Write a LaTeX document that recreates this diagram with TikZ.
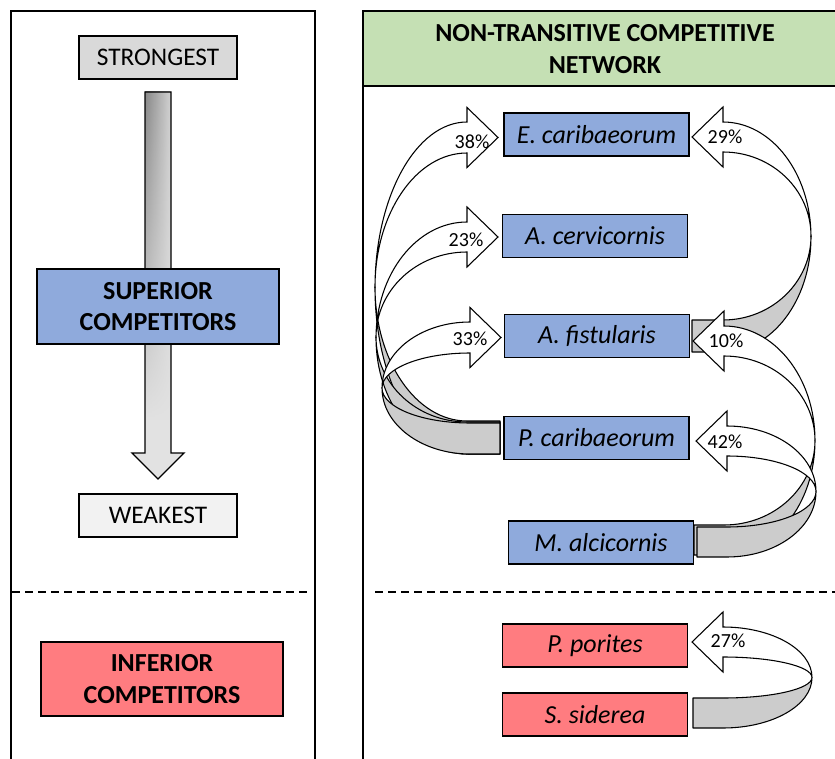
\documentclass[tikz,border=0pt]{standalone}
\usepackage{fontspec}
\setmainfont{Carlito}
\usetikzlibrary{fadings}
\definecolor{boxblue}{HTML}{8FAADC}
\definecolor{boxred}{HTML}{FF7C80}
\definecolor{hdrgreen}{HTML}{C5E0B4}
\definecolor{stronggray}{HTML}{D9D9D9}
\definecolor{weakgray}{HTML}{F2F2F2}
\definecolor{backgray}{HTML}{CCCCCC}
\definecolor{barlight}{HTML}{E2E2E2}
\definecolor{bardark}{HTML}{888888}
\definecolor{barmid}{HTML}{D2D2D2}
\tikzfading[name=barfade, top color=transparent!0, bottom color=transparent!100]
% #1 dir (+1 bulge right, -1 bulge left), #2 cx, #3 rx, #4 outer top, #5 outer bottom,
% #6 inner top, #7 inner bottom, #8 tail end x
\newcommand{\ribbon}[8]{%
  \pgfmathsetmacro{\rboc}{(#4+#5)/2}%
  \pgfmathsetmacro{\rbory}{(#5-#4)/2}%
  \pgfmathsetmacro{\rbic}{(#6+#7)/2}%
  \pgfmathsetmacro{\rbiry}{(#7-#6)/2}%
  \pgfmathsetmacro{\rbex}{#2+#1*#3}%
  \pgfmathsetmacro{\rbkx}{#2+#1*0.5523*#3}%
  \pgfmathsetmacro{\rbmid}{(#4+#6)/2}%
  \pgfmathsetmacro{\rbtip}{#2-#1*31}%
  \pgfmathsetmacro{\rboA}{\rboc+0.5523*\rbory}%
  \pgfmathsetmacro{\rboB}{\rboc-0.5523*\rbory}%
  \pgfmathsetmacro{\rbiA}{\rbic+0.5523*\rbiry}%
  \pgfmathsetmacro{\rbiB}{\rbic-0.5523*\rbiry}%
  \pgfmathsetmacro{\rbhT}{\rbmid-30}%
  \pgfmathsetmacro{\rbhB}{\rbmid+30}%
  \draw[backband] (#8,#5) -- (#2,#5) .. controls (\rbkx,#5) and (\rbex,\rboA) .. (\rbex,\rboc)
     -- (\rbex,\rbic) .. controls (\rbex,\rbiA) and (\rbkx,#7) .. (#2,#7) -- (#8,#7) -- cycle;
  \draw[frontband] (#2,#4) .. controls (\rbkx,#4) and (\rbex,\rboB) .. (\rbex,\rboc)
     -- (\rbex,\rbic) .. controls (\rbex,\rbiB) and (\rbkx,#6) .. (#2,#6)
     -- (#2,\rbhB) -- (\rbtip,\rbmid) -- (#2,\rbhT) -- cycle;
}
\begin{document}
\begin{tikzpicture}[x=0.75pt,y=-0.75pt,
  panel/.style={line width=1.1pt},
  divider/.style={line width=1.4pt, dash pattern=on 6pt off 3.8pt},
  box/.style={draw, line width=1.3pt, inner sep=0pt, align=center},
  spbox/.style={box, fill=boxblue, minimum width=138.75pt, minimum height=32.25pt,
     font=\fontsize{19.5}{23}\selectfont\itshape},
  redbox/.style={spbox, fill=boxred},
  rankbox/.style={box, minimum width=118.5pt, minimum height=32.25pt,
     font=\fontsize{19}{23}\selectfont},
  groupbox/.style={box, minimum width=181.5pt, minimum height=56pt,
     font=\fontsize{19.5}{23.75}\selectfont\bfseries},
  backband/.style={draw, fill=backgray, line width=0.8pt, line join=round},
  frontband/.style={draw, fill=white, line width=0.8pt, line join=miter},
  pct/.style={inner sep=0pt, font=\fontsize{15}{18}\selectfont}
]
\useasboundingbox (0,0) rectangle (835,759);
% panels
\draw[panel] (11,759) -- (11,11) -- (315,11) -- (315,759);
\fill[hdrgreen] (363,11) rectangle (835,86);
\draw[panel] (835,11) -- (363,11) -- (363,759);
\draw[panel] (363,86) -- (835,86);
\node[inner sep=0pt, align=center, font=\fontsize{19.5}{23.75}\selectfont\bfseries] (hdr) at (605,49)
  {NON-TRANSITIVE COMPETITIVE\\NETWORK};
% dividers
\draw[divider] (12,592) -- (311,592);
\draw[divider] (375,592) -- (835,592);
% left: gradient arrow
\fill[barlight] (145,92) -- (171,92) -- (171,453) -- (184,453) -- (158,479) -- (132,453) -- (145,453) -- cycle;
\shade[left color=bardark, right color=barmid, path fading=barfade] (145,92) rectangle (171,420);
\draw[line width=1pt, line join=miter] (145,92) -- (171,92) -- (171,453) -- (184,453) -- (158,479) -- (132,453) -- (145,453) -- cycle;
\node[rankbox, fill=stronggray] (strong) at (158,57.5) {STRONGEST};
\node[rankbox, fill=weakgray] (weak) at (158,515.5) {WEAKEST};
\node[groupbox, fill=boxblue] (sup) at (158,306.5) {SUPERIOR\\COMPETITORS};
\node[groupbox, fill=boxred] (inf) at (162,679) {INFERIOR\\COMPETITORS};
% right: ribbons (right side)
\ribbon{1}{723}{88}{122}{352}{152}{320}{692}
\ribbon{1}{724}{91}{326}{555}{356}{525}{694}
\ribbon{1}{727}{89}{426}{557}{456}{527}{697}
\ribbon{1}{723}{89}{627}{728}{657}{698}{693}
% left side
\ribbon{-1}{467}{92}{122}{454}{153}{421}{500}
\ribbon{-1}{467}{91}{222}{454}{252}{422}{500}
\ribbon{-1}{470}{88}{322}{454}{353}{423}{500}
% species
\node[spbox] (ec) at (596.5,134.5) {E. caribaeorum};
\node[spbox] (ac) at (595,236) {A. cervicornis};
\node[spbox] (af) at (597,336) {A. fistularis};
\node[spbox] (pc) at (596.5,438) {P. caribaeorum};
\node[spbox] (ma) at (601,542.5) {M. alcicornis};
\node[redbox] (pp) at (595,645.5) {P. porites};
\node[redbox] (ss) at (595,714.5) {S. siderea};
% labels
\node[pct] (l38) at (472,142) {38\%};
\node[pct] (l23) at (466,240) {23\%};
\node[pct] (l33) at (470,339) {33\%};
\node[pct] (l29) at (725,137) {29\%};
\node[pct] (l10) at (726,341) {10\%};
\node[pct] (l42) at (725,442) {42\%};
\node[pct] (l27) at (728,641) {27\%};
\end{tikzpicture}
\end{document}
